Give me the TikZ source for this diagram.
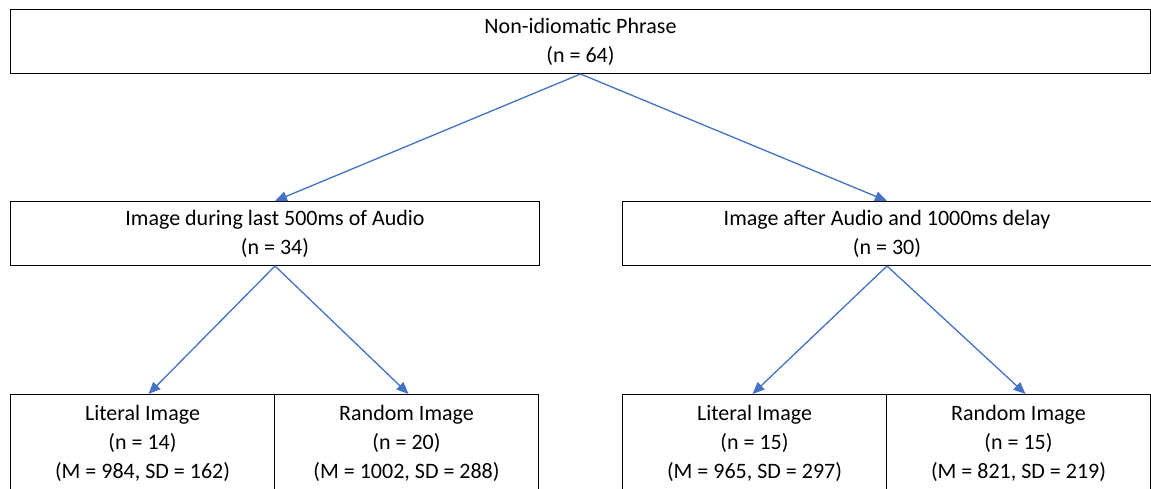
\documentclass[tikz,border=0pt]{standalone}
\usepackage{fontspec}
\setmainfont{Carlito}
\usetikzlibrary{arrows.meta}
\definecolor{officeblue}{RGB}{68,114,196}
\tikzset{
  box/.style={draw=black, line width=1pt, rectangle, inner sep=0pt, align=center,
    font=\fontsize{22}{29}\selectfont},
  toprow/.style={box, minimum width=1140pt, minimum height=64pt},
  midrow/.style={box, minimum width=529pt, minimum height=64pt},
  botrow/.style={box, minimum width=264pt, minimum height=97pt},
  arr/.style={draw=officeblue, line width=1.3pt, -{Triangle[length=12pt,width=10pt]}, fill=officeblue}
}
\begin{document}
\begin{tikzpicture}[x=1pt,y=-1pt]
\useasboundingbox (0,0) rectangle (1151,489);
\clip (0,0) rectangle (1151,489);
\fill[white] (0,0) rectangle (1151,489);

\node[toprow, anchor=north west] (top) at (10,9) {Non-idiomatic Phrase\\(n = 64)};

\node[midrow, anchor=north west] (ml) at (10,201) {Image during last 500ms of Audio\\(n = 34)};
\node[midrow, anchor=north west] (mr) at (622,201) {Image after Audio and 1000ms delay\\(n = 30)};

\node[botrow, anchor=north west] (bl1) at (10,394) {Literal Image\\(n = 14)\\(M = 984, SD = 162)};
\node[botrow, anchor=north west] (bl2) at (274,394) {Random Image\\(n = 20)\\(M = 1002, SD = 288)};
\node[botrow, anchor=north west] (br1) at (622,394) {Literal Image\\(n = 15)\\(M = 965, SD = 297)};
\node[botrow, anchor=north west] (br2) at (886,394) {Random Image\\(n = 15)\\(M = 821, SD = 219)};

\draw[arr] (top.south) -- (ml.north);
\draw[arr] (top.south) -- (mr.north);
\draw[arr] (ml.south) -- ([xshift=6pt]bl1.north);
\draw[arr] (ml.south) -- ([xshift=2pt]bl2.north);
\draw[arr] (mr.south) -- ([xshift=-2pt]br1.north);
\draw[arr] (mr.south) -- ([xshift=7pt]br2.north);
\end{tikzpicture}
\end{document}
